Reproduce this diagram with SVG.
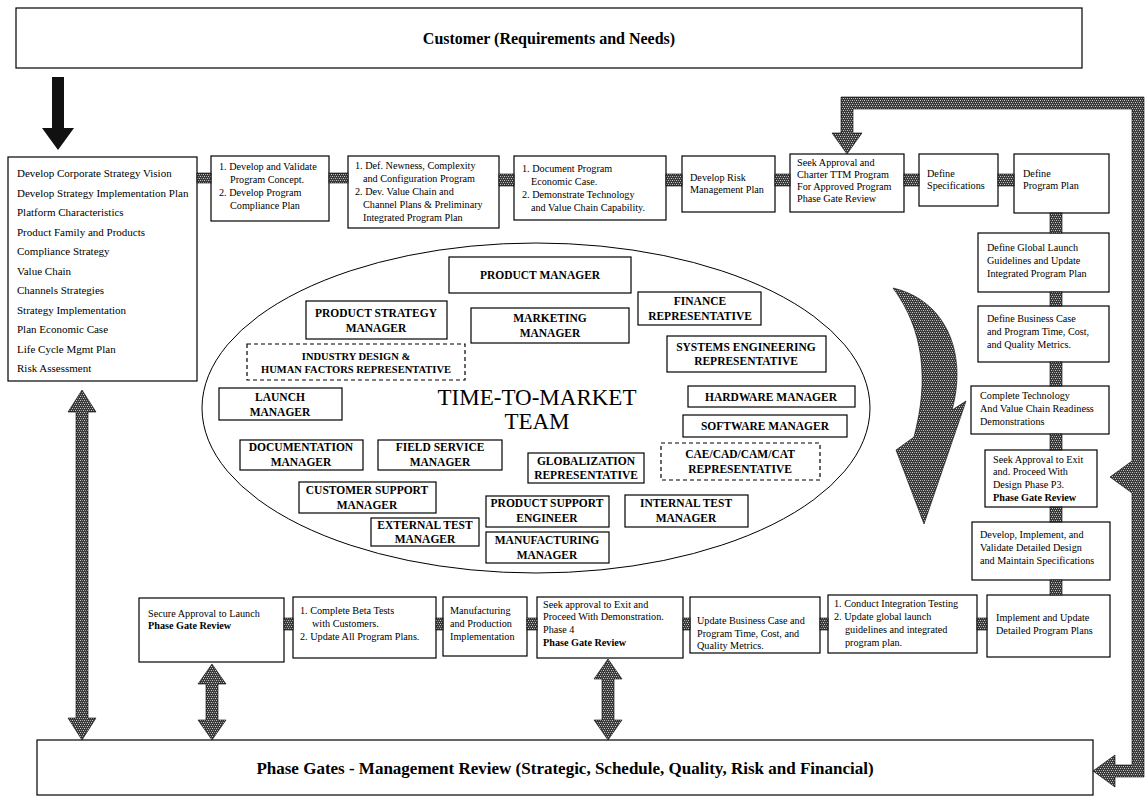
<svg xmlns="http://www.w3.org/2000/svg" width="1146" height="805" viewBox="0 0 1146 805">
<defs>
<pattern id="chk" width="4" height="4" patternUnits="userSpaceOnUse">
<rect width="4" height="4" fill="#3a3a3a"/>
<rect x="0" y="0" width="1" height="1" fill="#c8c8c8"/>
<rect x="2" y="0" width="1" height="1" fill="#9a9a9a"/>
<rect x="1" y="2" width="1" height="1" fill="#9a9a9a"/>
<rect x="3" y="2" width="1" height="1" fill="#c8c8c8"/>
</pattern>
</defs>
<style>
.box{fill:#fff;stroke:#000;stroke-width:1.2}
.dbox{fill:#fff;stroke:#000;stroke-width:1.2;stroke-dasharray:4 3}
.t{font-family:"Liberation Serif","Times New Roman",serif;font-size:10.2px;fill:#000}
.tl{font-family:"Liberation Serif","Times New Roman",serif;font-size:11px;fill:#000}
.b{font-weight:bold}
.tm{font-family:"Liberation Serif","Times New Roman",serif;font-size:11.5px;font-weight:bold;text-anchor:middle;fill:#000}
.tms{font-family:"Liberation Serif","Times New Roman",serif;font-size:10.5px;font-weight:bold;text-anchor:middle;fill:#000}
.big{font-family:"Liberation Serif","Times New Roman",serif;font-size:16px;font-weight:bold;text-anchor:middle;fill:#000}
.ttm{font-family:"Liberation Serif","Times New Roman",serif;font-size:23px;text-anchor:middle;fill:#000}
.hat{fill:url(#chk) #555;stroke:#000;stroke-width:0.6}
</style>
<rect width="1146" height="805" fill="#fff"/>

<g id="customer">
<rect class="box" x="16" y="8" width="1066" height="60"/>
<text class="big" x="549" y="44">Customer (Requirements and Needs)</text>
</g>

<g id="phase-gates">
<rect class="box" x="37" y="740" width="1056" height="55"/>
<text class="big" x="565" y="774" style="font-size:17px">Phase Gates - Management Review (Strategic, Schedule, Quality, Risk  and Financial)</text>
</g>

<g id="strategy-list">
<rect class="box" x="8" y="157" width="189" height="224"/>
<text class="tl" x="17" y="177">Develop Corporate Strategy Vision</text>
<text class="tl" x="17" y="196.5">Develop Strategy Implementation Plan</text>
<text class="tl" x="17" y="216">Platform Characteristics</text>
<text class="tl" x="17" y="235.5">Product Family and Products</text>
<text class="tl" x="17" y="255">Compliance Strategy</text>
<text class="tl" x="17" y="274.5">Value Chain</text>
<text class="tl" x="17" y="294">Channels Strategies</text>
<text class="tl" x="17" y="313.5">Strategy Implementation</text>
<text class="tl" x="17" y="333">Plan Economic Case</text>
<text class="tl" x="17" y="352.5">Life Cycle Mgmt Plan</text>
<text class="tl" x="17" y="372">Risk Assessment</text>
</g>

<g id="step1">
<rect class="box" x="211" y="156" width="118" height="65"/>
<text class="t" x="219" y="170">1. Develop and Validate</text>
<text class="t" x="230" y="183">Program Concept.</text>
<text class="t" x="219" y="196">2. Develop Program</text>
<text class="t" x="230" y="209">Compliance Plan</text>
</g>
<g id="step2">
<rect class="box" x="348" y="156" width="151" height="72"/>
<text class="t" x="355" y="169">1. Def. Newness, Complexity</text>
<text class="t" x="363" y="182">and Configuration Program</text>
<text class="t" x="355" y="195">2. Dev. Value Chain and</text>
<text class="t" x="363" y="208">Channel Plans &amp; Preliminary</text>
<text class="t" x="363" y="221">Integrated Program Plan</text>
</g>
<g id="step3">
<rect class="box" x="514" y="156" width="152" height="64"/>
<text class="t" x="522" y="172">1. Document Program</text>
<text class="t" x="531" y="185">Economic Case.</text>
<text class="t" x="522" y="198">2. Demonstrate Technology</text>
<text class="t" x="531" y="211">and Value Chain Capability.</text>
</g>
<g id="step4">
<rect class="box" x="682" y="156" width="93" height="56"/>
<text class="t" x="690" y="181">Develop Risk</text>
<text class="t" x="690" y="193">Management Plan</text>
</g>
<g id="step5">
<rect class="box" x="790" y="154" width="114" height="58"/>
<text class="t" x="797" y="166">Seek Approval and</text>
<text class="t" x="797" y="178">Charter TTM Program</text>
<text class="t" x="797" y="190">For Approved Program</text>
<text class="t" x="797" y="202">Phase Gate Review</text>
</g>
<g id="step6">
<rect class="box" x="919" y="154" width="79" height="52"/>
<text class="t" x="927" y="177">Define</text>
<text class="t" x="927" y="189">Specifications</text>
</g>
<g id="step7">
<rect class="box" x="1014" y="154" width="95" height="59"/>
<text class="t" x="1023" y="177">Define</text>
<text class="t" x="1023" y="189">Program Plan</text>
</g>
<g id="step8">
<rect class="box" x="978" y="233" width="131" height="59"/>
<text class="t" x="987" y="251">Define Global Launch</text>
<text class="t" x="987" y="264">Guidelines and Update</text>
<text class="t" x="987" y="277">Integrated Program Plan</text>
</g>
<g id="step9">
<rect class="box" x="978" y="306" width="131" height="56"/>
<text class="t" x="987" y="322">Define Business Case</text>
<text class="t" x="987" y="335">and Program Time, Cost,</text>
<text class="t" x="987" y="348">and Quality Metrics.</text>
</g>
<g id="step10">
<rect class="box" x="971" y="386" width="138" height="48"/>
<text class="t" x="980" y="399">Complete Technology</text>
<text class="t" x="980" y="412">And Value Chain Readiness</text>
<text class="t" x="980" y="425">Demonstrations</text>
</g>
<g id="step11">
<rect class="box" x="985" y="450" width="112" height="57"/>
<text class="t" x="993" y="463">Seek Approval to Exit</text>
<text class="t" x="993" y="475">and. Proceed With</text>
<text class="t" x="993" y="488">Design Phase P3.</text>
<text class="t b" x="993" y="501">Phase Gate Review</text>
</g>
<g id="step12">
<rect class="box" x="972" y="522" width="138" height="58"/>
<text class="t" x="980" y="538">Develop, Implement, and</text>
<text class="t" x="980" y="551">Validate Detailed Design</text>
<text class="t" x="980" y="564">and Maintain Specifications</text>
</g>
<g id="step13">
<rect class="box" x="987" y="595" width="123" height="62"/>
<text class="t" x="996" y="621">Implement and Update</text>
<text class="t" x="996" y="634">Detailed Program Plans</text>
</g>
<g id="step14">
<rect class="box" x="828" y="595" width="149" height="58"/>
<text class="t" x="834" y="607">1. Conduct Integration Testing</text>
<text class="t" x="834" y="620">2. Update global launch</text>
<text class="t" x="845" y="633">guidelines and integrated</text>
<text class="t" x="845" y="646">program plan.</text>
</g>
<g id="step15">
<rect class="box" x="690" y="597" width="130" height="56"/>
<text class="t" x="697" y="624">Update Business Case and</text>
<text class="t" x="697" y="637">Program Time, Cost, and</text>
<text class="t" x="697" y="649">Quality Metrics.</text>
</g>
<g id="step16">
<rect class="box" x="537" y="597" width="146" height="61"/>
<text class="t" x="543" y="608">Seek approval to Exit and</text>
<text class="t" x="543" y="620">Proceed With Demonstration.</text>
<text class="t" x="543" y="633">Phase 4</text>
<text class="t b" x="543" y="646">Phase Gate Review</text>
</g>
<g id="step17">
<rect class="box" x="443" y="597" width="84" height="59"/>
<text class="t" x="450" y="614">Manufacturing</text>
<text class="t" x="450" y="627">and Production</text>
<text class="t" x="450" y="640">Implementation</text>
</g>
<g id="step18">
<rect class="box" x="293" y="597" width="143" height="61"/>
<text class="t" x="300" y="614">1. Complete Beta Tests</text>
<text class="t" x="312" y="627">with Customers.</text>
<text class="t" x="300" y="640">2. Update All Program Plans.</text>
</g>
<g id="step19">
<rect class="box" x="139" y="598" width="145" height="64"/>
<text class="t" x="148" y="617">Secure Approval to Launch</text>
<text class="t b" x="148" y="629">Phase Gate Review</text>
</g>

<g id="ttm-team">
<ellipse cx="536" cy="408" rx="334" ry="165" fill="none" stroke="#000" stroke-width="1"/>
<text class="ttm" x="537" y="405">TIME-TO-MARKET</text>
<text class="ttm" x="537" y="429">TEAM</text>
</g>
<g id="product-manager"><rect class="box" x="449" y="257" width="182" height="36"/><text class="tm" x="540" y="279">PRODUCT MANAGER</text></g>
<g id="product-strategy-manager"><rect class="box" x="306" y="301" width="141" height="38"/><text class="tm" x="376" y="317">PRODUCT STRATEGY</text><text class="tm" x="376" y="332">MANAGER</text></g>
<g id="marketing-manager"><rect class="box" x="471" y="308" width="158" height="35"/><text class="tm" x="550" y="322">MARKETING</text><text class="tm" x="550" y="337">MANAGER</text></g>
<g id="industry-design"><rect class="dbox" x="247" y="344" width="218" height="36"/><text class="tms" x="356" y="360">INDUSTRY DESIGN &amp;</text><text class="tms" x="356" y="373">HUMAN FACTORS REPRESENTATIVE</text></g>
<g id="launch-manager"><rect class="box" x="219" y="388" width="123" height="32"/><text class="tm" x="280" y="401">LAUNCH</text><text class="tm" x="280" y="416">MANAGER</text></g>
<g id="finance-rep"><rect class="box" x="638" y="292" width="123" height="33"/><text class="tm" x="700" y="305">FINANCE</text><text class="tm" x="700" y="320">REPRESENTATIVE</text></g>
<g id="systems-eng-rep"><rect class="box" x="667" y="336" width="159" height="36"/><text class="tm" x="746" y="351">SYSTEMS ENGINEERING</text><text class="tm" x="746" y="365">REPRESENTATIVE</text></g>
<g id="hardware-manager"><rect class="box" x="688" y="386" width="167" height="21"/><text class="tm" x="771" y="401">HARDWARE MANAGER</text></g>
<g id="software-manager"><rect class="box" x="683" y="415" width="164" height="22"/><text class="tm" x="765" y="430">SOFTWARE MANAGER</text></g>
<g id="cae-rep"><rect class="dbox" x="661" y="443" width="159" height="37"/><text class="tm" x="740" y="458">CAE/CAD/CAM/CAT</text><text class="tm" x="740" y="473">REPRESENTATIVE</text></g>
<g id="globalization-rep"><rect class="box" x="528" y="453" width="116" height="30"/><text class="tm" x="586" y="465">GLOBALIZATION</text><text class="tm" x="586" y="479">REPRESENTATIVE</text></g>
<g id="documentation-manager"><rect class="box" x="240" y="440" width="123" height="30"/><text class="tm" x="301" y="451">DOCUMENTATION</text><text class="tm" x="301" y="466">MANAGER</text></g>
<g id="field-service-manager"><rect class="box" x="378" y="440" width="124" height="30"/><text class="tm" x="440" y="451">FIELD SERVICE</text><text class="tm" x="440" y="466">MANAGER</text></g>
<g id="customer-support-manager"><rect class="box" x="299" y="482" width="137" height="31"/><text class="tm" x="367" y="494">CUSTOMER SUPPORT</text><text class="tm" x="367" y="509">MANAGER</text></g>
<g id="product-support-engineer"><rect class="box" x="486" y="496" width="123" height="31"/><text class="tm" x="547" y="507">PRODUCT SUPPORT</text><text class="tm" x="547" y="522">ENGINEER</text></g>
<g id="external-test-manager"><rect class="box" x="371" y="518" width="108" height="28"/><text class="tm" x="425" y="529">EXTERNAL TEST</text><text class="tm" x="425" y="543">MANAGER</text></g>
<g id="manufacturing-manager"><rect class="box" x="486" y="532" width="123" height="31"/><text class="tm" x="547" y="544">MANUFACTURING</text><text class="tm" x="547" y="559">MANAGER</text></g>
<g id="internal-test-manager"><rect class="box" x="625" y="495" width="123" height="32"/><text class="tm" x="686" y="507">INTERNAL TEST</text><text class="tm" x="686" y="522">MANAGER</text></g>

<g id="connectors">
<polygon fill="#111" points="52,77 64,77 64,128 74,128 58,150 42,128 52,128"/>
<polygon class="hat" points="82,390 96,412 88,412 88,718 96,718 82,740 68,718 76,718 76,412 68,412"/>
<polygon class="hat" points="212,664 226,684 218,684 218,720 226,720 212,740 198,720 206,720 206,684 198,684"/>
<polygon class="hat" points="608,659 622,679 614,679 614,720 622,720 608,740 594,720 602,720 602,679 594,679"/>
<polygon class="hat" points="841,97 1144,97 1144,777 1115,777 1115,787 1093,771 1115,755 1115,765 1132,765 1132,493 1110,477 1132,461 1132,109 853,109 853,133 862,133 847,154 832,133 841,133"/>
<path class="hat" d="M893,288 C945,300 968,352 952,410 L966,401 L924,524 L896,450 L914,437 C929,380 924,330 893,288 Z"/>
<rect class="hat" x="197" y="173" width="14" height="10"/>
<rect class="hat" x="329" y="173" width="19" height="10"/>
<rect class="hat" x="499" y="174" width="15" height="12"/>
<rect class="hat" x="666" y="174" width="16" height="12"/>
<rect class="hat" x="775" y="174" width="15" height="12"/>
<rect class="hat" x="904" y="174" width="15" height="12"/>
<rect class="hat" x="998" y="174" width="16" height="12"/>
<rect class="hat" x="1050" y="213" width="12" height="20"/>
<rect class="hat" x="1050" y="292" width="12" height="14"/>
<rect class="hat" x="1050" y="362" width="12" height="24"/>
<rect class="hat" x="1050" y="434" width="12" height="16"/>
<rect class="hat" x="1050" y="507" width="12" height="15"/>
<rect class="hat" x="1050" y="580" width="12" height="15"/>
<rect class="hat" x="284" y="618" width="9" height="12"/>
<rect class="hat" x="436" y="618" width="7" height="12"/>
<rect class="hat" x="527" y="618" width="10" height="12"/>
<rect class="hat" x="683" y="618" width="7" height="12"/>
<rect class="hat" x="820" y="618" width="8" height="12"/>
<rect class="hat" x="977" y="618" width="10" height="12"/>
</g>
</svg>
